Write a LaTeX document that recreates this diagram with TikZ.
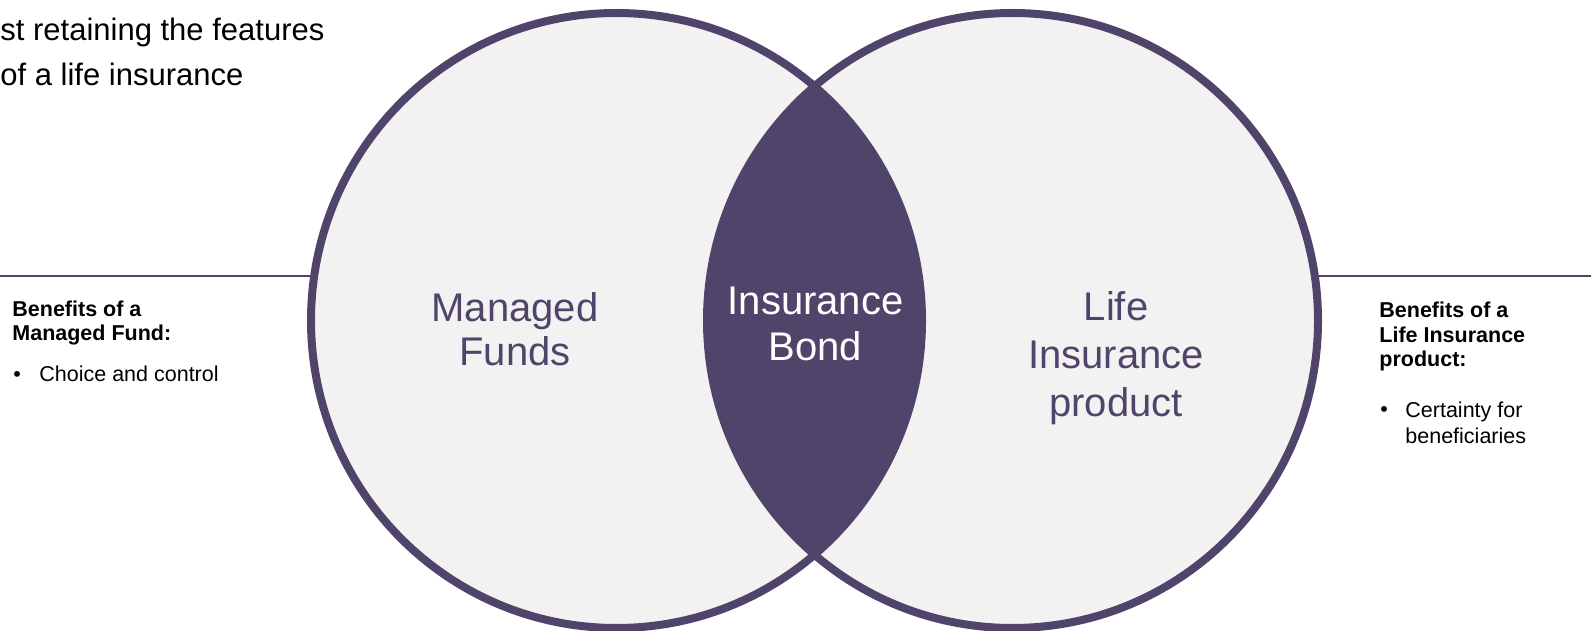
\documentclass[tikz,border=0pt]{standalone}
\usepackage{fontspec}
\setmainfont{Liberation Sans}
\definecolor{bondpurple}{RGB}{80,68,106}
\definecolor{fundgray}{RGB}{242,242,242}

\begin{document}
\begin{tikzpicture}[x=0.5pt,y=-0.5pt]
    \pgfmathsetmacro{\leftcx}{616.5}
    \pgfmathsetmacro{\rightcx}{1012.5}
    \pgfmathsetmacro{\cy}{320.5}
    \pgfmathsetmacro{\rx}{305.5}
    \pgfmathsetmacro{\ry}{307.5}
    \pgfmathsetmacro{\ruley}{276}
    \providecommand{\introfontsize}{\fontsize{15.5pt}{22.75pt}\selectfont}
    \providecommand{\headfontsize}{\fontsize{10.75pt}{12.25pt}\selectfont}
    \providecommand{\labelfontsize}{\fontsize{20pt}{22pt}\selectfont}
    \useasboundingbox (0,0) rectangle (1591,631);
    \coordinate (fundcentre) at (\leftcx,\cy);
    \coordinate (lifecentre) at (\rightcx,\cy);
    \coordinate (ruleleft) at (0,\ruley);
    \coordinate (ruleright) at (1591,\ruley);
    \draw[bondpurple,line width=1pt] (ruleleft) -- (ruleleft -| fundcentre);
    \draw[bondpurple,line width=1pt] (ruleright) -- (ruleright -| lifecentre);
    \fill[fundgray] (fundcentre) ellipse ({\rx} and {\ry});
    \fill[fundgray] (lifecentre) ellipse ({\rx} and {\ry});
    \begin{scope}
        \clip (fundcentre) ellipse ({\rx} and {\ry});
        \fill[bondpurple] (lifecentre) ellipse ({\rx} and {\ry});
    \end{scope}
    \draw[bondpurple,line width=4pt] (fundcentre) ellipse ({\rx} and {\ry});
    \draw[bondpurple,line width=4pt] (lifecentre) ellipse ({\rx} and {\ry});
    % multi-line nodes sit on the baseline of their last line
    \node[anchor=base west,align=left,inner sep=0,font=\introfontsize] (intro) at (0,86) {st retaining the features\\of a life insurance};
    \node[anchor=base west,align=left,inner sep=0,font=\headfontsize\bfseries] (fundhead) at (12,340.7) {Benefits of a\\Managed Fund:};
    \node[anchor=base west,inner sep=0,font=\headfontsize] (fundbullet) at (13,381.7) {\makebox[13pt][l]{•}Choice and control};
    \node[anchor=base west,align=left,inner sep=0,font=\headfontsize\bfseries] (lifehead) at (1379,366.7) {Benefits of a\\Life Insurance\\product:};
    \node[anchor=base west,inner sep=0,font=\headfontsize] (lifemark) at (1380,416.7) {•};
    \node[anchor=base west,align=left,inner sep=0,font=\fontsize{10.75pt}{13pt}\selectfont] (lifebullet) at (1405,443) {Certainty for\\beneficiaries};
    \node[anchor=base,align=center,inner sep=0,font=\labelfontsize,text=bondpurple] (funds) at (515,365) {Managed\\Funds};
    \node[anchor=base,align=center,inner sep=0,font=\fontsize{20pt}{23pt}\selectfont,text=white] (bond) at (815.5,360.7) {Insurance\\Bond};
    \node[anchor=base,align=center,inner sep=0,font=\fontsize{20pt}{24pt}\selectfont,text=bondpurple] (life) at (1116,416.7) {Life\\Insurance\\product};
\end{tikzpicture}
\end{document}
